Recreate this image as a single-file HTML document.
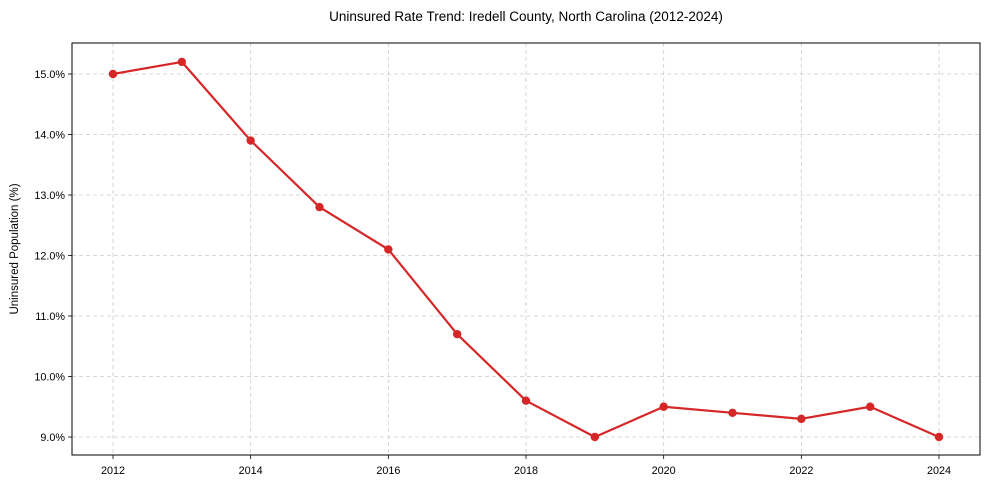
<!DOCTYPE html>
<html><head><meta charset="utf-8"><style>
body{margin:0;background:#fff;font-family:"Liberation Sans",Arial,sans-serif;}
svg text{font-family:"Liberation Sans",Arial,sans-serif;fill:#000;}
</style></head><body>
<svg id="chart" width="989" height="490" viewBox="0 0 989 490">
<rect x="0" y="0" width="989" height="490" fill="#fff"/>
<text x="526" y="21" text-anchor="middle" font-size="13.5">Uninsured Rate Trend: Iredell County, North Carolina (2012-2024)</text>
<text transform="translate(18,249) rotate(-90)" text-anchor="middle" font-size="11.5">Uninsured Population (%)</text>
<g id="grid"></g><g id="ticks"></g><g id="series"></g>
<rect x="72" y="43" width="908" height="412" fill="none" stroke="#000" stroke-width="1"/>
</svg>
<script>
const years=[2012,2013,2014,2015,2016,2017,2018,2019,2020,2021,2022,2023,2024];
const rates=[15.0,15.2,13.9,12.8,12.1,10.7,9.6,9.0,9.5,9.4,9.3,9.5,9.0];
const xTicks=[2012,2014,2016,2018,2020,2022,2024];
const yTicks=[9,10,11,12,13,14,15];
const NS="http://www.w3.org/2000/svg";
function x(v){return 113+(v-2012)*(939-113)/12;}
function y(v){return 437-(v-9)*(437-74)/6;}
function mk(tag,attrs,parent,text){const e=document.createElementNS(NS,tag);for(const k in attrs)e.setAttribute(k,attrs[k]);if(text!==undefined)e.textContent=text;document.getElementById(parent).appendChild(e);return e;}
xTicks.forEach(t=>{
 const g=mk('line',{x1:x(t),x2:x(t),y1:43,y2:455,stroke:'#ccc','stroke-dasharray':'4,3','stroke-width':0.8},'grid');
 
 
 const tk=mk('line',{x1:x(t),x2:x(t),y1:455,y2:459,stroke:'#000','stroke-width':0.8},'ticks');
 
 
 const l=mk('text',{x:x(t),y:474,'text-anchor':'middle','font-size':10.8},'ticks',String(t));
 
 
});
yTicks.forEach(t=>{
 const g=mk('line',{x1:72,x2:980,y1:y(t),y2:y(t),stroke:'#ccc','stroke-dasharray':'4,3','stroke-width':0.8},'grid');
 
 
 const tk=mk('line',{x1:68,x2:72,y1:y(t),y2:y(t),stroke:'#000','stroke-width':0.8},'ticks');
 
 
 const l=mk('text',{x:65,y:y(t)+4,'text-anchor':'end','font-size':10.8},'ticks',t.toFixed(1)+'%');
 
 
});
const pts=years.map((yr,i)=>x(yr)+','+y(rates[i])).join(' ');
const line=mk('polyline',{points:pts,fill:'none',stroke:'#d62728','stroke-width':2.2,'stroke-linejoin':'round'},'series');


years.forEach((yr,i)=>{
 const c=mk('circle',{cx:x(yr),cy:y(rates[i]),r:4.2,fill:'#d62728'},'series');
 
 
});
</script>
</body></html>
